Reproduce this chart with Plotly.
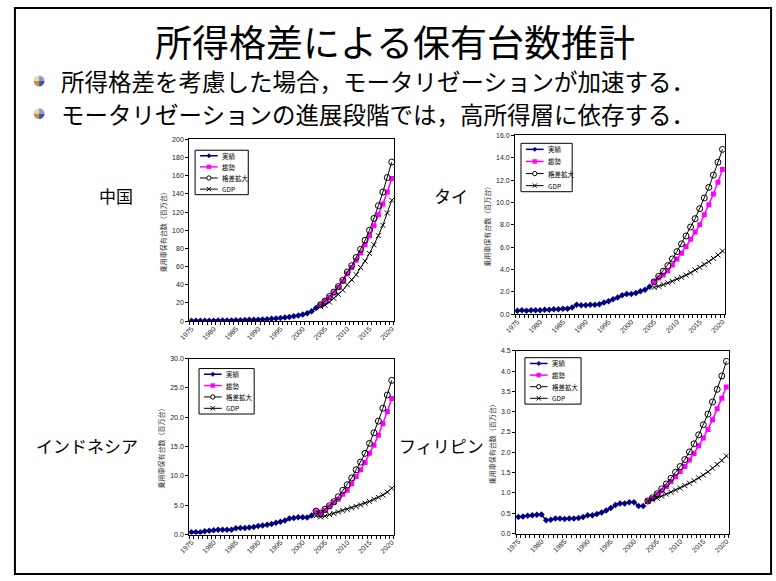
import math
import plotly.graph_objects as go

W, H = 776, 581

# ---- data (millions of passenger cars) ----
series_names = ["実績", "趨勢", "格差拡大", "GDP"]
x_tick_years = [1975, 1980, 1985, 1990, 1995, 2000, 2005, 2010, 2015, 2020]
x_tick_labels = [str(y) for y in x_tick_years]

# China
china_actual_years = list(range(1975, 2004))
china_actual = [0.3, 0.3, 0.3, 0.4, 0.4, 0.5, 0.6, 0.7, 0.7, 0.8, 0.9, 1.1, 1.2, 1.4, 1.5,
                1.6, 1.9, 2.2, 2.6, 3.0, 3.5, 4.0, 4.6, 5.3, 6.2, 7.3, 8.7, 11.0, 14.5]
china_fc_years = list(range(2004, 2021))
china_trend = [18, 22, 26, 31, 37, 44, 52, 59, 67, 75, 84, 94, 105, 117, 129, 142, 157]
china_gap = [18, 22, 27, 32, 38, 45, 54, 61, 70, 79, 89, 100, 113, 127, 142, 158, 175]
china_gdp = [16, 17.5, 21, 25, 29.5, 34, 40, 45.5, 51, 59, 66, 74.5, 84, 94, 105.5, 119, 133]
china_yticks = [0, 20, 40, 60, 80, 100, 120, 140, 160, 180, 200]

# Thailand
thai_actual_years = list(range(1975, 2005))
thai_actual = [0.3, 0.35, 0.3, 0.35, 0.35, 0.35, 0.4, 0.4, 0.45, 0.45, 0.5, 0.5, 0.6, 0.85, 0.8,
               0.8, 0.85, 0.85, 0.9, 1.05, 1.15, 1.35, 1.5, 1.7, 1.8, 1.8, 1.9, 2.05, 2.2, 2.45]
thai_fc_years = list(range(2005, 2021))
thai_trend = [2.9, 3.25, 3.5, 3.9, 4.4, 4.95, 5.45, 6.05, 6.7, 7.35, 8.0, 8.9, 9.8, 10.75, 11.8, 12.95]
thai_gap = [2.9, 3.4, 3.85, 4.35, 4.95, 5.6, 6.3, 7.0, 7.8, 8.55, 9.45, 10.4, 11.35, 12.45, 13.6, 14.75]
thai_gdp = [2.4, 2.5, 2.65, 2.8, 2.95, 3.15, 3.3, 3.5, 3.7, 3.95, 4.2, 4.45, 4.7, 5.0, 5.3, 5.65]
thai_yticks = [0, 2, 4, 6, 8, 10, 12, 14, 16]

# Indonesia
indo_actual_years = list(range(1975, 2003))
indo_actual = [0.4, 0.4, 0.4, 0.55, 0.65, 0.75, 0.8, 0.8, 0.8, 0.8, 1.05, 1.1, 1.1, 1.2, 1.3,
               1.45, 1.55, 1.65, 1.8, 2.0, 2.2, 2.4, 2.75, 2.8, 2.95, 2.95, 2.9, 3.25]
indo_fc_years = list(range(2003, 2021))
indo_trend = [3.9, 3.65, 4.15, 4.75, 5.45, 6.0, 6.85, 7.55, 8.65, 9.9, 11.05, 12.3, 13.85,
              15.25, 16.95, 18.9, 21.0, 23.2]
indo_gap = [4.0, 3.65, 4.3, 4.9, 5.6, 6.45, 7.55, 8.5, 9.65, 11.05, 12.35, 13.85, 15.55,
            17.35, 19.35, 21.55, 23.8, 26.3]
indo_gdp = [3.2, 3.0, 3.15, 3.4, 3.6, 3.85, 4.1, 4.3, 4.55, 4.8, 5.05, 5.35, 5.65, 6.0,
            6.35, 6.75, 7.25, 7.9]
indo_yticks = [0, 5, 10, 15, 20, 25, 30]

# Philippines
phil_actual_years = list(range(1975, 2003))
phil_actual = [0.41, 0.42, 0.44, 0.45, 0.46, 0.47, 0.33, 0.34, 0.37, 0.37, 0.36, 0.37, 0.37, 0.38,
               0.41, 0.45, 0.45, 0.48, 0.52, 0.57, 0.63, 0.70, 0.74, 0.74, 0.77, 0.77, 0.68, 0.68]
phil_fc_years = list(range(2003, 2021))
phil_trend = [0.80, 0.86, 0.96, 1.05, 1.16, 1.28, 1.40, 1.53, 1.65, 1.81, 1.97, 2.16, 2.35,
              2.56, 2.80, 3.07, 3.33, 3.61]
phil_gap = [0.80, 0.88, 0.98, 1.10, 1.22, 1.36, 1.51, 1.65, 1.82, 2.01, 2.21, 2.43, 2.68,
            2.94, 3.24, 3.55, 3.88, 4.24]
phil_gdp = [0.79, 0.83, 0.87, 0.92, 0.97, 1.02, 1.07, 1.12, 1.18, 1.24, 1.30, 1.37, 1.44,
            1.52, 1.61, 1.70, 1.80, 1.91]
phil_yticks = [0, 0.5, 1.0, 1.5, 2.0, 2.5, 3.0, 3.5, 4.0, 4.5]

countries = ["中国", "タイ", "インドネシア", "フィリピン"]

# ---- styling ----
NAVY = "#000080"
MAGENTA = "#FF00FF"
BLACK = "#000000"
CJK = "Noto Sans CJK JP"
SANS = "Liberation Sans"
Y_TITLE = "乗用車保有台数（百万台）"


def fx(x):
    return x / W


def fy(y):
    return 1 - y / H


# panel layout in pixels: (left, right, top, bottom)
panels = [
    dict(box=(181, 389, 137, 321), yrange=200, ticks=china_yticks, fmt="d",
         data=(china_actual_years, china_actual, china_fc_years, china_trend, china_gap, china_gdp),
         legend=(187, 148, 241, 193), label=(107, 194)),
    dict(box=(512, 725, 133, 314), yrange=16, ticks=thai_yticks, fmt=".1f",
         data=(thai_actual_years, thai_actual, thai_fc_years, thai_trend, thai_gap, thai_gdp),
         legend=(518, 141, 570, 190), label=(447, 194)),
    dict(box=(181, 389, 359, 537), yrange=30, ticks=indo_yticks, fmt=".1f",
         data=(indo_actual_years, indo_actual, indo_fc_years, indo_trend, indo_gap, indo_gdp),
         legend=(191, 369, 247, 415), label=(77, 447)),
    dict(box=(513, 729, 351, 536), yrange=4.5, ticks=phil_yticks, fmt=".1f",
         data=(phil_actual_years, phil_actual, phil_fc_years, phil_trend, phil_gap, phil_gdp),
         legend=(522, 358, 579, 405), label=(437, 447)),
]

fig = go.Figure()
shapes = []
annotations = []

for i, p in enumerate(panels):
    suf = "" if i == 0 else str(i + 1)
    xa, ya = "x" + suf, "y" + suf
    ay, av, fyrs, trend, gap, gdp = p["data"]
    fig.add_trace(go.Scatter(x=ay, y=av, mode="lines+markers", name=series_names[0],
                             line=dict(color=NAVY, width=1.5),
                             marker=dict(symbol="diamond", size=5, color=NAVY),
                             xaxis=xa, yaxis=ya, showlegend=False))
    fig.add_trace(go.Scatter(x=fyrs, y=trend, mode="lines+markers", name=series_names[1],
                             line=dict(color=MAGENTA, width=1.5),
                             marker=dict(symbol="square", size=5, color=MAGENTA),
                             xaxis=xa, yaxis=ya, showlegend=False))
    fig.add_trace(go.Scatter(x=fyrs, y=gap, mode="lines+markers", name=series_names[2],
                             line=dict(color=BLACK, width=1),
                             marker=dict(symbol="circle-open", size=6, color=BLACK,
                                         line=dict(width=1)),
                             xaxis=xa, yaxis=ya, showlegend=False))
    fig.add_trace(go.Scatter(x=fyrs, y=gdp, mode="lines+markers", name=series_names[3],
                             line=dict(color=BLACK, width=1),
                             marker=dict(symbol="x-thin", size=5, color=BLACK,
                                         line=dict(width=1, color=BLACK)),
                             xaxis=xa, yaxis=ya, showlegend=False))

    l, r, t, b = p["box"]
    fig.layout["xaxis" + suf] = dict(
        domain=[fx(l), fx(r)], anchor=ya, range=[1974.5, 2020.5],
        tickmode="array", tickvals=x_tick_years, ticktext=x_tick_labels,
        tickangle=-45, ticks="", tickfont=dict(family=SANS, size=7, color="#222"),
        showline=True, mirror=True, linecolor=BLACK, linewidth=1,
        showgrid=False, zeroline=False,
        minor=dict(tick0=1974.5, dtick=1, ticks="outside", ticklen=3,
                   tickcolor=BLACK, tickwidth=1, showgrid=False),
    )
    fig.layout["yaxis" + suf] = dict(
        domain=[fy(b), fy(t)], anchor=xa, range=[0, p["yrange"]],
        tickmode="array", tickvals=p["ticks"],
        ticktext=[format(v, p["fmt"]) if p["fmt"] != "d" else str(int(v)) for v in p["ticks"]],
        ticks="outside", ticklen=3, tickcolor=BLACK,
        tickfont=dict(family=SANS, size=7, color="#222"),
        showline=True, mirror=True, linecolor=BLACK, linewidth=1,
        showgrid=False, zeroline=False,
        title=dict(text=Y_TITLE, font=dict(family=CJK, size=7, color="#333"), standoff=4),
    )

    # legend box drawn in page pixels
    lx0, ly0, lx1, ly1 = p["legend"]
    shapes.append(dict(type="rect", xref="paper", yref="paper",
                       x0=fx(lx0), x1=fx(lx1), y0=fy(ly1), y1=fy(ly0),
                       line=dict(color=BLACK, width=1), fillcolor="white"))
    rh = (ly1 - ly0) / 4
    styles = [(NAVY, "diamond", 1.5), (MAGENTA, "square", 1.5),
              (BLACK, "circle", 1), (BLACK, "x", 1)]
    for k, (col, sym, lw) in enumerate(styles):
        yy = ly0 + (k + 0.5) * rh
        xs0, xs1 = lx0 + 5, lx0 + 23
        xm = (xs0 + xs1) / 2
        shapes.append(dict(type="line", xref="paper", yref="paper",
                           x0=fx(xs0), x1=fx(xs1), y0=fy(yy), y1=fy(yy),
                           line=dict(color=col, width=lw)))
        s = 2.2
        if sym == "diamond":
            path = (f"M{fx(xm)},{fy(yy - s)} L{fx(xm + s)},{fy(yy)} "
                    f"L{fx(xm)},{fy(yy + s)} L{fx(xm - s)},{fy(yy)} Z")
            shapes.append(dict(type="path", xref="paper", yref="paper", path=path,
                               fillcolor=col, line=dict(color=col, width=0.5)))
        elif sym == "square":
            shapes.append(dict(type="rect", xref="paper", yref="paper",
                               x0=fx(xm - 2), x1=fx(xm + 2), y0=fy(yy + 2), y1=fy(yy - 2),
                               fillcolor=col, line=dict(color=col, width=0.5)))
        elif sym == "circle":
            shapes.append(dict(type="circle", xref="paper", yref="paper",
                               x0=fx(xm - 2.2), x1=fx(xm + 2.2), y0=fy(yy + 2.2), y1=fy(yy - 2.2),
                               fillcolor="white", line=dict(color=col, width=1)))
        else:
            path = (f"M{fx(xm - 2.2)},{fy(yy - 2.2)} L{fx(xm + 2.2)},{fy(yy + 2.2)} "
                    f"M{fx(xm - 2.2)},{fy(yy + 2.2)} L{fx(xm + 2.2)},{fy(yy - 2.2)}")
            shapes.append(dict(type="path", xref="paper", yref="paper", path=path,
                               line=dict(color=col, width=1)))
        annotations.append(dict(text=series_names[k], xref="paper", yref="paper",
                                x=fx(lx0 + 25), y=fy(yy), xanchor="left", yanchor="middle",
                                showarrow=False,
                                font=dict(family=CJK, size=6.5, color=BLACK)))

    # country label
    cx, cy = p["label"]
    annotations.append(dict(text=countries[i], xref="paper", yref="paper",
                            x=fx(cx), y=fy(cy), xanchor="center", yanchor="middle",
                            showarrow=False, font=dict(family=CJK, size=17, color=BLACK)))

# slide title and bullet points
annotations.append(dict(text="所得格差による保有台数推計", xref="paper", yref="paper",
                        x=fx(390), y=fy(37), xanchor="center", yanchor="middle",
                        showarrow=False, font=dict(family=CJK, size=37, color=BLACK)))
bullets = ["所得格差を考慮した場合，モータリゼーションが加速する．",
           "モータリゼーションの進展段階では，高所得層に依存する．"]
bullet_y = [78, 111]
for txt, by in zip(bullets, bullet_y):
    annotations.append(dict(text=txt, xref="paper", yref="paper",
                            x=fx(49), y=fy(by), xanchor="left", yanchor="middle",
                            showarrow=False, font=dict(family=CJK, size=23.5, color=BLACK)))
    # four-colour round bullet
    cxb, cyb, rb = 28.5, by, 5.5
    quads = [("#E9D9A2", 180, 270), ("#8C9AD0", 270, 360),
             ("#D7894A", 90, 180), ("#4A5297", 0, 90)]
    for col, a0, a1 in quads:
        pts = [(cxb, cyb)]
        for j in range(7):
            a = math.radians(a0 + (a1 - a0) * j / 6)
            pts.append((cxb + rb * math.cos(a), cyb + rb * math.sin(a)))
        path = "M" + " L".join(f"{fx(px)},{fy(py)}" for px, py in pts) + " Z"
        shapes.append(dict(type="path", xref="paper", yref="paper", path=path,
                           fillcolor=col, line=dict(width=0)))

# slide frame
shapes.append(dict(type="rect", xref="paper", yref="paper",
                   x0=fx(4), x1=fx(772), y0=fy(577), y1=fy(4),
                   line=dict(color=BLACK, width=2)))

fig.update_layout(width=W, height=H, margin=dict(l=0, r=0, t=0, b=0),
                  paper_bgcolor="white", plot_bgcolor="white",
                  font=dict(family=CJK), shapes=shapes, annotations=annotations,
                  showlegend=False)

fig.write_html("out.html")
